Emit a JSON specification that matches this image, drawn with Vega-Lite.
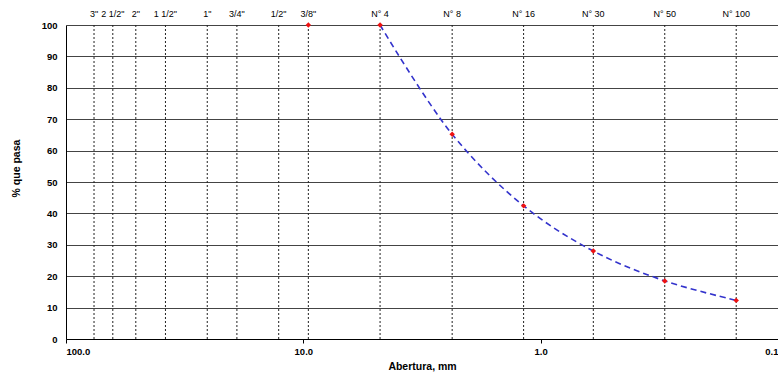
{
  "$schema": "https://vega.github.io/schema/vega-lite/v6.json",
  "autosize": "none",
  "width": 712,
  "height": 314,
  "padding": {"left": 66, "top": 25, "right": 0, "bottom": 41},
  "background": "white",
  "config": {
    "view": {"stroke": null},
    "font": "Liberation Sans",
    "axis": {"labelFont": "Liberation Sans", "titleFont": "Liberation Sans"}
  },
  "datasets": {
    "sieves": [
      {"sieve": "3\"", "size": 76.2},
      {"sieve": "2 1/2\"", "size": 63.5},
      {"sieve": "2\"", "size": 50.8},
      {"sieve": "1 1/2\"", "size": 38.1},
      {"sieve": "1\"", "size": 25.4},
      {"sieve": "3/4\"", "size": 19.05},
      {"sieve": "1/2\"", "size": 12.7},
      {"sieve": "3/8\"", "size": 9.525},
      {"sieve": "N° 4", "size": 4.75},
      {"sieve": "N° 8", "size": 2.36},
      {"sieve": "N° 16", "size": 1.18},
      {"sieve": "N° 30", "size": 0.6},
      {"sieve": "N° 50", "size": 0.3},
      {"sieve": "N° 100", "size": 0.15}
    ],
    "curve": [
      {"size": 9.525, "pct": 100},
      {"size": 4.75, "pct": 100},
      {"size": 2.36, "pct": 65.2},
      {"size": 1.18, "pct": 42.4},
      {"size": 0.6, "pct": 28.0},
      {"size": 0.3, "pct": 18.5},
      {"size": 0.15, "pct": 12.3}
    ]
  },
  "encoding": {
    "y": {
      "type": "quantitative",
      "scale": {"domain": [0, 100], "nice": false},
      "axis": {
        "values": [0, 10, 20, 30, 40, 50, 60, 70, 80, 90, 100],
        "labelOverlap": false,
        "grid": true, "gridColor": "#444444", "gridWidth": 1.2,
        "labelFontSize": 9.5, "labelFontWeight": "bold", "labelColor": "#000",
        "ticks": false, "labelPadding": 9, "domainColor": "#000",
        "title": "% que pasa", "titleFontSize": 10.5, "titleFontWeight": "bold",
        "titleColor": "#000", "titleX": -45, "titleY": 143, "titleAngle": -90
      }
    }
  },
  "layer": [
    {
      "data": {"name": "sieves"},
      "mark": {"type": "rule", "color": "#222222", "strokeDash": [2, 2], "strokeWidth": 1},
      "encoding": {
        "x": {
          "field": "size", "type": "quantitative",
          "scale": {"type": "log", "domain": [0.1, 100], "reverse": true, "nice": false},
          "axis": {
            "values": [100, 10, 1, 0.1], "format": ".1f", "grid": false,
            "labelFontSize": 9.5, "labelFontWeight": "bold", "labelColor": "#000",
            "tickSize": 4, "tickColor": "#000", "domainColor": "#000", "labelPadding": 3,
            "title": "Abertura, mm", "titleFontSize": 10.5, "titleFontWeight": "bold",
            "titleColor": "#000", "titlePadding": 6
          }
        },
        "y": {"value": 0},
        "y2": {"value": 314}
      }
    },
    {
      "data": {"name": "sieves"},
      "mark": {"type": "text", "fontSize": 9, "dy": -11, "color": "#000"},
      "encoding": {
        "x": {"field": "size", "type": "quantitative"},
        "y": {"datum": 100},
        "text": {"field": "sieve"}
      }
    },
    {
      "data": {"name": "curve"},
      "transform": [{"filter": "datum.size < 5"}],
      "mark": {"type": "line", "color": "#3333cc", "strokeDash": [6, 4], "strokeWidth": 1.6, "interpolate": "catmull-rom"},
      "encoding": {
        "x": {"field": "size", "type": "quantitative"},
        "y": {"field": "pct"}
      }
    },
    {
      "data": {"name": "curve"},
      "mark": {"type": "point", "shape": "diamond", "filled": true, "color": "#ee1111", "size": 30, "opacity": 1},
      "encoding": {
        "x": {"field": "size", "type": "quantitative"},
        "y": {"field": "pct"}
      }
    }
  ]
}
